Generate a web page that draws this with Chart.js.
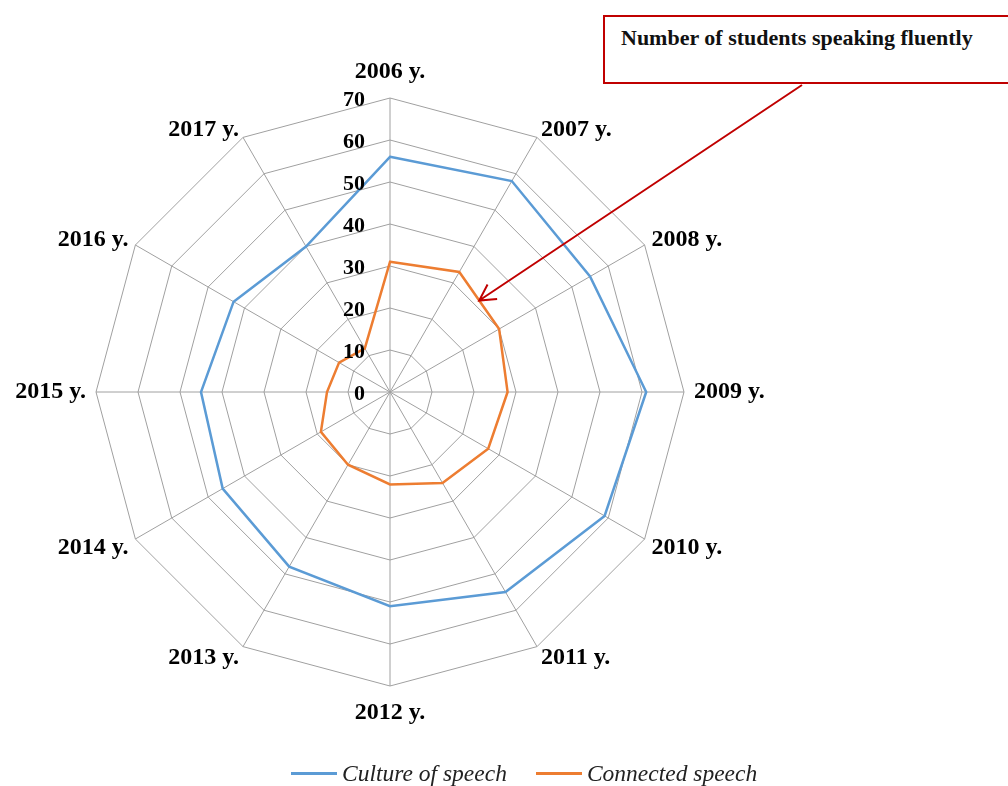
<!DOCTYPE html>
<html>
<head>
<meta charset="utf-8">
<script src="https://cdn.jsdelivr.net/npm/chart.js@4"></script>
<style>
    html, body { margin: 0; padding: 0; background: #fff; }
    #wrap { position: relative; width: 1008px; height: 786px; overflow: hidden; }
    #chart { position: absolute; left: 0; top: 0; }
    #note {
        position: absolute; left: 603px; top: 15px; width: 440px; height: 65px;
        border: 2px solid #c00000; background: #fff;
        font: bold 22px 'Liberation Serif', 'Times New Roman', serif; color: #111;
    }
    #note span { position: absolute; left: 16px; top: 8px; }
    #legend {
        position: absolute; left: 291px; top: 760px; display: flex; align-items: center;
        font: italic 23.5px 'Liberation Serif', 'Times New Roman', serif; color: #222;
    }
    #legend .item { display: flex; align-items: center; margin-right: 29px; }
    #legend .swatch { width: 46px; height: 2.5px; margin-right: 5px; }
</style>
</head>
<body>
<div id="wrap">
    <canvas id="chart" width="1008" height="786"></canvas>
    <div id="note"><span>Number of students speaking fluently</span></div>
    <div id="legend"></div>
</div>
<script>
// years on the spokes
const years = ['2006 y.', '2007 y.', '2008 y.', '2009 y.', '2010 y.', '2011 y.',
    '2012 y.', '2013 y.', '2014 y.', '2015 y.', '2016 y.', '2017 y.'];
const cultureOfSpeech = [56, 58, 55, 61, 59, 55, 51, 48, 46, 45, 43, 40];
const connectedSpeech = [31, 33, 30, 28, 27, 25, 22, 20, 19, 15, 14, 12];
const tickValues = [0, 10, 20, 30, 40, 50, 60, 70];

const serif = "'Liberation Serif', 'Times New Roman', serif";

// tick numbers sit to the left of the vertical axis
const tickLabels = {
    id: 'tickLabels',
    afterDatasetsDraw(chart) {
        const scale = chart.scales.r;
        const ctx = chart.ctx;
        ctx.save();
        ctx.font = 'bold 22px ' + serif;
        ctx.fillStyle = '#000';
        ctx.textAlign = 'right';
        ctx.textBaseline = 'middle';
        tickValues.forEach(v => {
            const y = scale.yCenter - scale.getDistanceFromCenterForValue(v);
            ctx.fillText(String(v), scale.xCenter - 25, y + 2);
        });
        ctx.restore();
    }
};

// red callout arrow pointing at the connected speech line
const callout = {
    id: 'callout',
    afterDraw(chart) {
        const scale = chart.scales.r;
        const a = scale.getPointPositionForValue(1, connectedSpeech[1]);
        const b = scale.getPointPositionForValue(2, connectedSpeech[2]);
        const tip = { x: (a.x + b.x) / 2, y: (a.y + b.y) / 2 };
        const tail = { x: 802, y: 85 };
        const ctx = chart.ctx;
        const ang = Math.atan2(tail.y - tip.y, tail.x - tip.x);
        const len = 18, spread = 0.5;
        ctx.save();
        ctx.strokeStyle = '#c00000';
        ctx.lineWidth = 2;
        ctx.beginPath();
        ctx.moveTo(tail.x, tail.y);
        ctx.lineTo(tip.x, tip.y);
        ctx.moveTo(tip.x + len * Math.cos(ang - spread), tip.y + len * Math.sin(ang - spread));
        ctx.lineTo(tip.x, tip.y);
        ctx.lineTo(tip.x + len * Math.cos(ang + spread), tip.y + len * Math.sin(ang + spread));
        ctx.stroke();
        ctx.restore();
    }
};

// label line height per spoke: full for top/bottom, small for diagonals
function labelLineHeight(i) {
    if (i % 3 === 0) return '33px';
    return (i > 3 && i < 9) ? '9px' : '2px';
}

const chart = new Chart(document.getElementById('chart'), {
    type: 'radar',
    data: {
        labels: years,
        datasets: [
            {
                label: 'Culture of speech',
                data: cultureOfSpeech,
                borderColor: '#5b9bd5',
                backgroundColor: 'transparent',
                borderWidth: 2.5,
                pointRadius: 0,
                fill: false
            },
            {
                label: 'Connected speech',
                data: connectedSpeech,
                borderColor: '#ed7d31',
                backgroundColor: 'transparent',
                borderWidth: 2.5,
                pointRadius: 0,
                fill: false
            }
        ]
    },
    options: {
        responsive: false,
        animation: false,
        devicePixelRatio: 1,
        layout: { padding: { left: 0, right: 228, top: 55, bottom: 57 } },
        plugins: {
            legend: { display: false },
            tooltip: { enabled: false }
        },
        elements: { line: { tension: 0 } },
        scales: {
            r: {
                min: 0,
                max: 70,
                ticks: { stepSize: 10, display: false },
                grid: { color: '#a0a0a0', lineWidth: 1 },
                angleLines: { color: '#a0a0a0', lineWidth: 1 },
                pointLabels: {
                    color: '#000',
                    padding: ctx => (ctx.index % 3 === 0 ? 10 : 8),
                    font: ctx => ({
                        family: serif,
                        size: 24,
                        weight: 'bold',
                        lineHeight: labelLineHeight(ctx.index)
                    })
                }
            }
        }
    },
    plugins: [tickLabels, callout]
});

// legend built from the datasets
const legend = document.getElementById('legend');
chart.data.datasets.forEach(ds => {
    const item = document.createElement('div');
    item.className = 'item';
    const sw = document.createElement('span');
    sw.className = 'swatch';
    sw.style.background = ds.borderColor;
    const txt = document.createElement('span');
    txt.textContent = ds.label;
    item.appendChild(sw);
    item.appendChild(txt);
    legend.appendChild(item);
});
</script>
</body>
</html>
